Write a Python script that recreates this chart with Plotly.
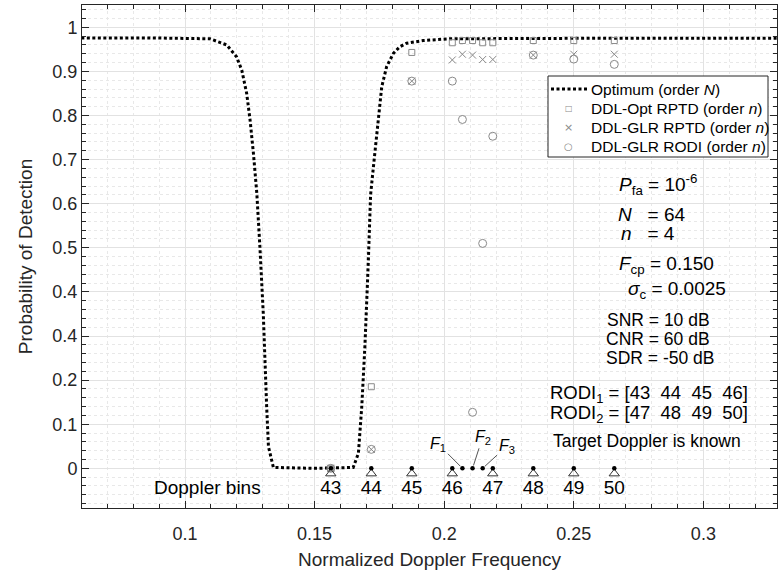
import plotly.graph_objects as go

# ---------------- data ----------------
# Optimum detector curve
opt_f = [0.0600, 0.0865, 0.1096, 0.1161, 0.1199, 0.1219, 0.1238, 0.1251, 0.1264, 0.1277,
         0.1289, 0.1302, 0.1315, 0.1322, 0.1341, 0.1500, 0.1649, 0.1669, 0.1682, 0.1694,
         0.1707, 0.1716, 0.1728, 0.1746, 0.1759, 0.1778, 0.1804, 0.1829, 0.1855, 0.1919,
         0.2022, 0.2500, 0.3290]
opt_pd = [0.976, 0.976, 0.974, 0.960, 0.933, 0.903, 0.850, 0.790, 0.714, 0.624,
          0.502, 0.351, 0.140, 0.049, 0.002, 0.000, 0.002, 0.034, 0.140, 0.276,
          0.465, 0.620, 0.690, 0.790, 0.865, 0.911, 0.941, 0.956, 0.964, 0.970,
          0.974, 0.975, 0.975]

# test frequencies: Doppler bins 43..50 and F1..F3 between bins 46 and 47
test_f = [0.156250, 0.171875, 0.187500, 0.203125, 0.207031, 0.210938, 0.214844,
          0.218750, 0.234375, 0.250000, 0.265625]
pd_opt_rptd = [0.000, 0.185, 0.943, 0.965, 0.970, 0.970, 0.965, 0.965, 0.970, 0.970, 0.970]
pd_glr_rptd = [0.000, 0.043, 0.878, 0.926, 0.939, 0.937, 0.927, 0.927, 0.937, 0.939, 0.939]
pd_glr_rodi = [0.000, 0.043, 0.878, 0.878, 0.791, 0.127, 0.510, 0.753, 0.937, 0.928, 0.916]

bin_f = [0.156250, 0.171875, 0.187500, 0.203125, 0.218750, 0.234375, 0.250000, 0.265625]
bin_labels = ["43", "44", "45", "46", "47", "48", "49", "50"]
sub_f = [0.207031, 0.210938, 0.214844]
sub_labels = ["<i>F</i><sub>1</sub>", "<i>F</i><sub>2</sub>", "<i>F</i><sub>3</sub>"]

legend_labels = ["Optimum (order <i>N</i>)", "DDL-Opt RPTD (order <i>n</i>)",
                 "DDL-GLR RPTD (order <i>n</i>)", "DDL-GLR RODI (order <i>n</i>)"]

y_tickvals = [0, 0.1, 0.2, 0.3, 0.4, 0.5, 0.6, 0.7, 0.8, 0.9, 1.0]
y_ticktext = ["0", "0.1", "0.2", "0.4", "0.4", "0.5", "0.6", "0.7", "0.8", "0.9", "1"]
x_tickvals = [0.1, 0.15, 0.2, 0.25, 0.3]
x_ticktext = ["0.1", "0.15", "0.2", "0.25", "0.3"]

# ---------------- style ----------------
FONT = "Liberation Sans, Arial, sans-serif"
MK = "#8a8a8a"
AX = "#262626"
W, H = 778, 574
L, R, T, B = 82, 1, 5, 66

def pxx(xp):
    return (xp - L) / (W - L - R)

def pxy(yp):
    return (H - B - yp) / (H - T - B)

fig = go.Figure()

fig.add_trace(go.Scatter(
    x=opt_f, y=opt_pd, mode="lines", name=legend_labels[0], showlegend=False,
    line=dict(color="black", width=3, dash="3px,2.5px")))
fig.add_trace(go.Scatter(
    x=test_f, y=pd_opt_rptd, mode="markers", name=legend_labels[1], showlegend=False,
    marker=dict(symbol="square-open", size=6, color=MK, line=dict(width=1, color=MK))))
fig.add_trace(go.Scatter(
    x=test_f, y=pd_glr_rptd, mode="markers", name=legend_labels[2], showlegend=False,
    marker=dict(symbol="x-thin-open", size=7, color=MK, line=dict(width=1, color=MK))))
fig.add_trace(go.Scatter(
    x=test_f, y=pd_glr_rodi, mode="markers", name=legend_labels[3], showlegend=False,
    marker=dict(symbol="circle-open", size=8, color=MK, line=dict(width=1, color=MK))))

# Doppler bin markers
TRI_Y = -0.012
LAB_Y = -0.047
fig.add_trace(go.Scatter(
    x=bin_f, y=[TRI_Y] * len(bin_f), mode="markers", showlegend=False, hoverinfo="skip",
    marker=dict(symbol="triangle-up-open", size=9, color="#333", line=dict(width=1, color="#333"))))
fig.add_trace(go.Scatter(
    x=bin_f + sub_f, y=[0] * (len(bin_f) + len(sub_f)), mode="markers", showlegend=False,
    hoverinfo="skip", marker=dict(symbol="circle", size=4.5, color="black")))
fig.add_trace(go.Scatter(
    x=bin_f, y=[LAB_Y] * len(bin_f), mode="text", text=bin_labels, showlegend=False,
    hoverinfo="skip", textfont=dict(family=FONT, size=19, color="black")))

ann = []
# F labels with leader lines
offs = [(-24, -24), (10, -31), (24, -22)]
for f, t, (ax, ay) in zip(sub_f, sub_labels, offs):
    ann.append(dict(x=f, y=0, xref="x", yref="y", text=t, showarrow=True, arrowhead=0,
                    arrowwidth=1, arrowcolor="#555", ax=ax, ay=ay, standoff=3,
                    font=dict(family=FONT, size=16, color="black")))

def txt(xp, yp, s, size=19, color="black", family=FONT, anchor="left"):
    ann.append(dict(x=pxx(xp), y=pxy(yp), xref="paper", yref="paper", text=s,
                    showarrow=False, xanchor=anchor, yanchor="middle",
                    font=dict(family=family, size=size, color=color)))

NB = "\u00a0"
txt(617, 184, "<i>P</i><sub>fa</sub> = 10<sup>-6</sup>")
txt(616, 214, "<i>N</i>" + NB * 3 + "= 64")
txt(619, 233, "<i>n</i>" + NB * 3 + "= 4")
txt(617, 265, "<i>F</i><sub>cp</sub> = 0.150")
txt(626, 290, "<i>σ</i><sub>c</sub> = 0.0025")
txt(605, 320, "SNR = 10 dB", 17.5)
txt(604, 339, "CNR = 60 dB", 17.5)
txt(604, 358, "SDR = -50 dB", 17.5)
txt(548, 394, "RODI<sub>1</sub> = [43" + NB * 2 + "44" + NB * 2 + "45" + NB * 2 + "46]", 18.5)
txt(548, 414, "RODI<sub>2</sub> = [47" + NB * 2 + "48" + NB * 2 + "49" + NB * 2 + "50]", 18.5)
txt(551, 441, "Target Doppler is known", size=17.5)
txt(152, 487, "Doppler bins")

# ---- legend box (drawn by hand to match the compact MATLAB legend) ----
LEG_X0, LEG_X1, LEG_Y0, LEG_Y1 = 548, 768, 76, 157
row_y = [89, 108.3, 127.7, 146.7]
shapes = [
    dict(type="rect", xref="paper", yref="paper", x0=pxx(LEG_X0), x1=pxx(LEG_X1),
         y0=pxy(LEG_Y1), y1=pxy(LEG_Y0), line=dict(color=AX, width=1),
         fillcolor="white", layer="above"),
    dict(type="line", xref="paper", yref="paper", x0=pxx(551), x1=pxx(588),
         y0=pxy(row_y[0]), y1=pxy(row_y[0]), line=dict(color="black", width=3, dash="3px,2.5px"),
         layer="above"),
]
for yy, lab in zip(row_y, legend_labels):
    txt(589, yy, lab, size=15.5)
GLY = "DejaVu Sans, sans-serif"
txt(568.5, row_y[1], "\u25a1", size=8, color=MK, family=GLY, anchor="center")
txt(568.5, row_y[2], "\u00d7", size=11, color=MK, family=GLY, anchor="center")
txt(568.5, row_y[3], "\u25cb", size=10, color=MK, family=GLY, anchor="center")

fig.update_layout(
    width=W, height=H, margin=dict(l=L, r=R, t=T, b=B, autoexpand=False),
    paper_bgcolor="white", plot_bgcolor="white",
    font=dict(family=FONT, size=19, color=AX),
    annotations=ann, shapes=shapes,
    showlegend=False,
)

fig.update_xaxes(
    range=[0.06026, 0.3284], tickvals=x_tickvals, ticktext=x_ticktext, automargin=False,
    showline=True, linecolor=AX, linewidth=1, mirror="allticks",
    ticks="inside", ticklen=7, tickcolor=AX, ticklabelstandoff=9,
    showgrid=True, gridcolor="#e2e2e2", gridwidth=1, zeroline=False,
    minor=dict(dtick=0.01, tick0=0, ticks="inside", ticklen=4, tickcolor=AX,
               showgrid=True, gridcolor="#e8e8e8", griddash="dot"),
    title=dict(text="Normalized Doppler Frequency", font=dict(size=19, color=AX), standoff=10),
    tickfont=dict(size=18, color=AX),
)
fig.update_yaxes(
    range=[-0.090, 1.0506], tickvals=y_tickvals, ticktext=y_ticktext, automargin=False,
    showline=True, linecolor=AX, linewidth=1, mirror="allticks",
    ticks="inside", ticklen=7, tickcolor=AX,
    showgrid=True, gridcolor="#e2e2e2", gridwidth=1, zeroline=False,
    minor=dict(dtick=0.02, tick0=0, ticks="inside", ticklen=4, tickcolor=AX,
               showgrid=True, gridcolor="#e8e8e8", griddash="dot"),
    title=dict(text="Probability of Detection", font=dict(size=19, color=AX), standoff=14),
    tickfont=dict(size=18, color=AX),
)

fig.write_html("out.html", config={"displayModeBar": False},
               post_script="document.body.style.margin='0';")
